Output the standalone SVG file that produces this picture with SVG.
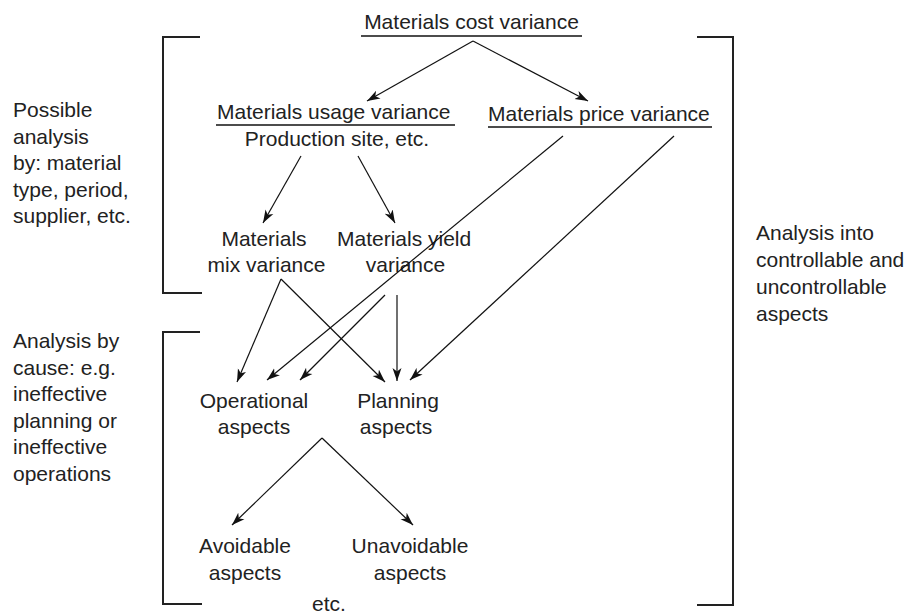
<svg xmlns="http://www.w3.org/2000/svg" width="912" height="613" viewBox="0 0 912 613">
<defs>
<marker id="ah" markerUnits="userSpaceOnUse" markerWidth="14" markerHeight="10" refX="13" refY="5" orient="auto">
<path d="M0,0.5 L13,5 L0,9.5 L3.5,5 Z" fill="#111"/>
</marker>
<style>
text{font-family:"Liberation Sans",Arial,sans-serif;font-size:21px;fill:#222}
.c{text-anchor:middle}
.ln{stroke:#111;stroke-width:1.3;fill:none}
.ar{stroke:#111;stroke-width:1.2;fill:none;marker-end:url(#ah)}
.br{stroke:#222;stroke-width:2;fill:none}
</style>
</defs>
<rect width="912" height="613" fill="#fff"/>
<g id="brackets">
<path class="br" d="M200,37 H163 V293 H202"/>
<path class="br" d="M200,332 H163 V604 H202"/>
<path class="br" d="M697,37 H733 V605 H697"/>
</g>
<g id="side-notes">
<text x="13" y="117">Possible</text>
<text x="13" y="143.5">analysis</text>
<text x="13" y="170">by: material</text>
<text x="13" y="196.5">type, period,</text>
<text x="13" y="223">supplier, etc.</text>
<text x="13" y="348">Analysis by</text>
<text x="13" y="374.5">cause: e.g.</text>
<text x="13" y="401">ineffective</text>
<text x="13" y="427.5">planning or</text>
<text x="13" y="454">ineffective</text>
<text x="13" y="480.5">operations</text>
<text x="756" y="240">Analysis into</text>
<text x="756" y="267">controllable and</text>
<text x="756" y="294">uncontrollable</text>
<text x="756" y="321">aspects</text>
</g>
<g id="cost">
<text class="c" x="471.5" y="29">Materials cost variance</text>
<line class="ln" x1="361" y1="36" x2="582" y2="36"/>
</g>
<g id="usage">
<text x="217" y="119">Materials usage variance</text>
<line class="ln" x1="216" y1="125" x2="455" y2="125"/>
<text class="c" x="337" y="146">Production site, etc.</text>
</g>
<g id="price">
<text x="488" y="121">Materials price variance</text>
<line class="ln" x1="488" y1="127" x2="712" y2="127"/>
</g>
<g id="mix">
<text class="c" x="264" y="246">Materials</text>
<text class="c" x="266.5" y="272">mix variance</text>
</g>
<g id="yield">
<text x="337" y="246">Materials yield</text>
<text class="c" x="405.5" y="272">variance</text>
</g>
<g id="operational">
<text class="c" x="254" y="408">Operational</text>
<text class="c" x="254" y="434">aspects</text>
</g>
<g id="planning">
<text class="c" x="398" y="408">Planning</text>
<text class="c" x="396" y="434">aspects</text>
</g>
<g id="avoidable">
<text class="c" x="245" y="553">Avoidable</text>
<text class="c" x="245" y="580">aspects</text>
</g>
<g id="unavoidable">
<text class="c" x="410" y="553">Unavoidable</text>
<text class="c" x="410" y="580">aspects</text>
</g>
<g id="etc">
<text x="312" y="611">etc.</text>
</g>
<g id="connectors">
<line class="ar" x1="473" y1="41" x2="367" y2="101"/>
<line class="ar" x1="473" y1="41" x2="588" y2="101"/>
<line class="ar" x1="301" y1="156" x2="263" y2="223"/>
<line class="ar" x1="358" y1="156" x2="395" y2="223"/>
<line class="ar" x1="281" y1="279" x2="237" y2="382"/>
<line class="ar" x1="281" y1="279" x2="385" y2="382"/>
<line class="ar" x1="563" y1="136" x2="267" y2="380"/>
<line class="ar" x1="385" y1="295" x2="300" y2="380"/>
<line class="ar" x1="397" y1="295" x2="397" y2="381"/>
<line class="ar" x1="674" y1="136" x2="410" y2="380"/>
<line class="ar" x1="322" y1="438" x2="232" y2="525"/>
<line class="ar" x1="322" y1="438" x2="413" y2="525"/>
</g>
</svg>
